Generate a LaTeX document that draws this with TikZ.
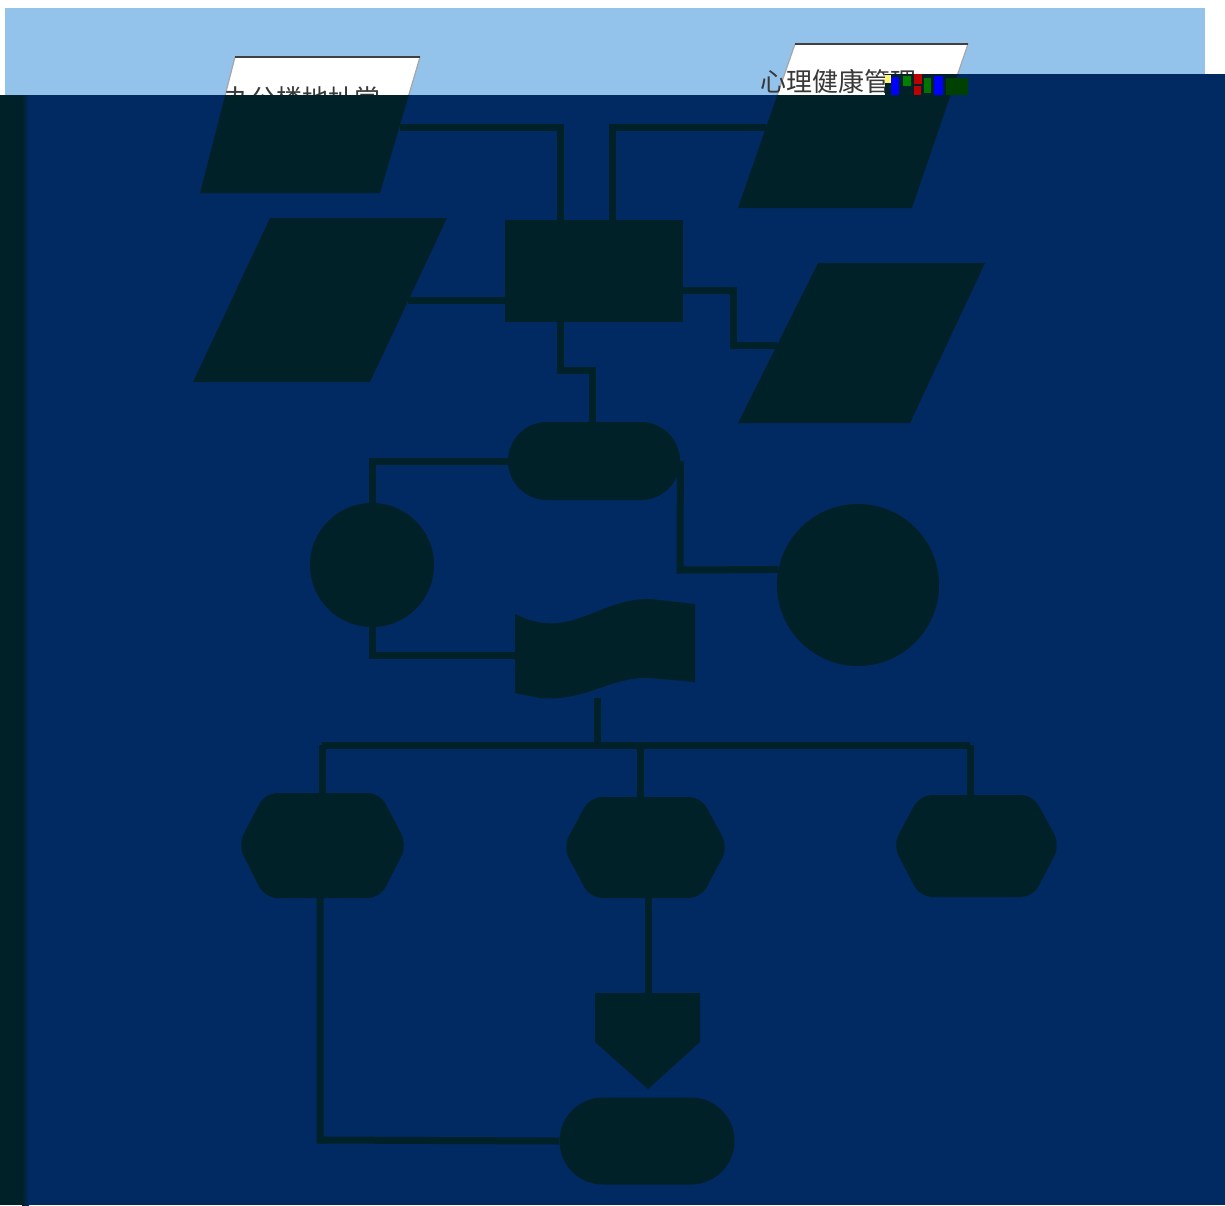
\documentclass[tikz,border=0pt]{standalone}
\usepackage{fontspec}
\newfontfamily\cjk{Noto Sans CJK SC}
\usetikzlibrary{shapes.misc}
\definecolor{navy}{HTML}{012A62}
\definecolor{dk}{HTML}{012128}
\definecolor{sky}{HTML}{93C2EB}
\begin{document}
\begin{tikzpicture}[x=0.5pt,y=-0.5pt,
  conn/.style={draw=dk,line width=3.5pt},
  darkshape/.style={fill=dk,draw=none,inner sep=0pt},
  paper/.style={fill=white,draw=gray!70,line width=0.6pt},
  lbl/.style={font=\cjk\fontsize{13pt}{15pt}\selectfont,text=black!78,inner sep=0pt}]
\useasboundingbox (0,0) rectangle (1225,1205);
\fill[white] (0,0) rectangle (1225,1205);
\fill[sky] (5,8) rectangle (1205,1205);
% visible tops of the two upper data shapes
\draw[paper] (235,57) -- (420,57) -- (380,193) -- (200,193) -- cycle;
\draw[gray!50!black,line width=1.2pt] (235,57) -- (420,57);
\draw[paper] (795,44) -- (968,44) -- (912,208) -- (738,208) -- cycle;
\draw[gray!50!black,line width=1.2pt] (795,44) -- (968,44);
\node[lbl] (t1) at (302,99) {办公楼地址常};
\node[lbl] (t2) at (838,81) {心理健康管理};
% dark overlay
\fill[navy] (0,95) rectangle (1225,1205);
\fill[navy] (885,74) rectangle (1225,95);
\fill[dk] (0,95) rectangle (22,1205);
\shade[left color=dk,right color=navy] (22,95) rectangle (29,1205);
\begin{scope}
\clip (0,95) rectangle (1225,1205) (885,74) rectangle (1225,95);
% named anchor points
\coordinate (P1e) at (400,127);
\coordinate (P2w) at (766,127);
\coordinate (P3e) at (408,300);
\coordinate (P4w) at (777,345);
\coordinate (k1) at (560,127);
\coordinate (k2) at (612,127);
\coordinate (k4a) at (733,290);
\coordinate (k4b) at (733,345);
\coordinate (k5a) at (560,370);
\coordinate (k5b) at (592,370);
\coordinate (k7) at (680,570);
\coordinate (k8) at (372,655);
\coordinate (Dw) at (515,655);
\coordinate (Ds) at (597,698);
\coordinate (bus) at (597,745);
\coordinate (busL) at (322,745);
\coordinate (busC) at (640,745);
\coordinate (busR) at (970,745);
\coordinate (H1n) at (322,793);
\coordinate (H2n) at (640,797);
\coordinate (H3n) at (970,795);
\coordinate (H1s) at (320,898);
\coordinate (H2s) at (648,898);
\coordinate (k10) at (320,1140);
\coordinate (Pn) at (648,993);
% nodes
\node[darkshape,minimum width=89pt,minimum height=51pt] (R) at (594,271) {};
\node[darkshape,rounded rectangle,minimum width=86pt,minimum height=39pt] (T1) at (594,461) {};
\node[darkshape,circle,minimum size=62pt] (C1) at (372,565) {};
\node[darkshape,circle,minimum size=81pt] (C2) at (858,585) {};
\node[darkshape,rounded rectangle,minimum width=87.5pt,minimum height=43.5pt] (T2) at (647,1141) {};
% connectors
\draw[conn] (P1e) -- (k1) -- (R.north -| k1);
\draw[conn] (P2w) -- (k2) -- (R.north -| k2);
\draw[conn] (P3e) -- (R.west |- P3e);
\draw[conn] (R.east |- k4a) -- (k4a) -- (k4b) -- (P4w);
\draw[conn] (R.south -| k5a) -- (k5a) -- (k5b) -- (T1.north -| k5b);
\draw[conn] (T1.west) -| (C1.north);
\draw[conn] (T1.east) -- (k7) -- (C2.169);
\draw[conn] (C1.south) -- (k8) -- (Dw);
\draw[conn] (Ds) -- (bus);
\draw[conn] (busL) -- (busR);
\draw[conn] (busL) -- (H1n);
\draw[conn] (busC) -- (H2n);
\draw[conn] (busR) -- (H3n);
\draw[conn] (H1s) -- (k10) -- (T2.west);
\draw[conn] (H2s) -- (Pn);
% shapes
\fill[dk] (235,57) -- (420,57) -- (380,193) -- (200,193) -- cycle;
\fill[dk] (795,44) -- (968,44) -- (912,208) -- (738,208) -- cycle;
\fill[dk] (270,218) -- (447,218) -- (370,382) -- (193,382) -- cycle;
\fill[dk] (818,263) -- (985,263) -- (910,423) -- (738,423) -- cycle;
\fill[dk] (515,614) .. controls (570,642) and (598,598) .. (650,599) -- (695,604) -- (695,682)
  -- (650,678) .. controls (612,676) and (585,702) .. (540,698) -- (515,693) -- cycle;
\fill[dk,rounded corners=6pt] (238,845) -- (265,793) -- (380,793) -- (407,845) -- (380,898) -- (265,898) -- cycle;
\fill[dk,rounded corners=6pt] (563,847) -- (590,797) -- (701,797) -- (728,847) -- (701,898) -- (590,898) -- cycle;
\fill[dk,rounded corners=6pt] (893,845) -- (920,795) -- (1033,795) -- (1060,845) -- (1033,897) -- (920,897) -- cycle;
\fill[dk] (595,993) -- (700,993) -- (700,1042) -- (648,1089) -- (595,1042) -- cycle;
\end{scope}
% colour noise at the overlay edge
\fill[yellow!60!white] (885,75) rectangle (891,83);
\fill[blue] (891,77) rectangle (899,95);
\fill[green!50!black] (903,76) rectangle (911,86);
\fill[red!75!black] (914,74) rectangle (922,84);
\fill[red!75!black] (914,86) rectangle (921,95);
\fill[green!45!black] (924,78) rectangle (931,93);
\fill[blue] (934,76) rectangle (943,95);
\fill[green!25!black] (946,78) rectangle (968,95);
\end{tikzpicture}
\end{document}
